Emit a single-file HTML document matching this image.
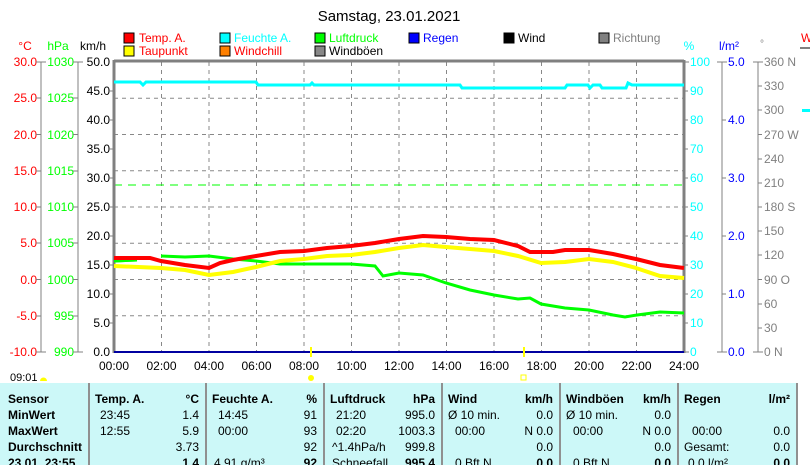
<!DOCTYPE html>
<html><head><meta charset="utf-8"><style>
html,body{margin:0;padding:0;background:#fff;width:810px;height:465px;overflow:hidden}
svg{display:block;font-family:"Liberation Sans",sans-serif;font-size:12px}
</style></head><body>
<svg width="810" height="465" viewBox="0 0 810 465">
<text x="389" y="21" font-size="15" text-anchor="middle">Samstag, 23.01.2021</text>
<!-- legend -->
<g font-size="12">
<rect x="124" y="33" width="10" height="10" fill="#f00" stroke="#000"/><text x="139" y="42" fill="#f00">Temp. A.</text>
<rect x="124" y="46" width="10" height="10" fill="#ff0" stroke="#000"/><text x="139" y="55" fill="#f00">Taupunkt</text>
<rect x="220" y="33" width="10" height="10" fill="#0ff" stroke="#000"/><text x="234" y="42" fill="#0ff">Feuchte A.</text>
<rect x="220" y="46" width="10" height="10" fill="#ff8000" stroke="#000"/><text x="234" y="55" fill="#f00">Windchill</text>
<rect x="315" y="33" width="10" height="10" fill="#0f0" stroke="#000"/><text x="329" y="42" fill="#0f0">Luftdruck</text>
<rect x="315" y="46" width="10" height="10" fill="#888" stroke="#000"/><text x="329" y="55">Windböen</text>
<rect x="409" y="33" width="10" height="10" fill="#00f" stroke="#000"/><text x="423" y="42" fill="#00f">Regen</text>
<rect x="504" y="33" width="10" height="10" fill="#000" stroke="#000"/><text x="518" y="42">Wind</text>
<rect x="599" y="33" width="10" height="10" fill="#808080" stroke="#000"/><text x="613" y="42" fill="#808080">Richtung</text>
</g>
<!-- axis headers -->
<text x="25" y="50" fill="#f00" text-anchor="middle">°C</text>
<text x="58" y="50" fill="#0f0" text-anchor="middle">hPa</text>
<text x="93" y="50" text-anchor="middle">km/h</text>
<text x="689" y="50" fill="#0ff" text-anchor="middle">%</text>
<text x="729" y="50" fill="#00f" text-anchor="middle">l/m²</text>
<text x="760" y="47" fill="#808080" font-size="10">°</text>
<text x="801" y="42" fill="#f00">W</text>
<rect x="800" y="47" width="10" height="2" fill="#808080"/>
<rect x="802" y="109" width="8" height="3" fill="#0ff"/>
<!-- grid -->
<g stroke="#888" stroke-dasharray="4,4" stroke-width="1">
<line x1="114" y1="98.25" x2="684" y2="98.25"/><line x1="114" y1="134.5" x2="684" y2="134.5"/>
<line x1="114" y1="170.75" x2="684" y2="170.75"/><line x1="114" y1="207" x2="684" y2="207"/>
<line x1="114" y1="243.25" x2="684" y2="243.25"/><line x1="114" y1="279.5" x2="684" y2="279.5"/>
<line x1="114" y1="315.75" x2="684" y2="315.75"/>
<line x1="161.5" y1="62" x2="161.5" y2="352"/><line x1="209" y1="62" x2="209" y2="352"/>
<line x1="256.5" y1="62" x2="256.5" y2="352"/><line x1="304" y1="62" x2="304" y2="352"/>
<line x1="351.5" y1="62" x2="351.5" y2="352"/><line x1="399" y1="62" x2="399" y2="352"/>
<line x1="446.5" y1="62" x2="446.5" y2="352"/><line x1="494" y1="62" x2="494" y2="352"/>
<line x1="541.5" y1="62" x2="541.5" y2="352"/><line x1="589" y1="62" x2="589" y2="352"/>
<line x1="636.5" y1="62" x2="636.5" y2="352"/>
</g>
<line x1="114" y1="185" x2="684" y2="185" stroke="#0f0" stroke-dasharray="8,6" stroke-width="1"/>
<!-- axes lines -->
<g stroke="#808080">
<line x1="114" y1="61" x2="684" y2="61" stroke-width="3"/>
<line x1="114" y1="60" x2="114" y2="353" stroke-width="3"/>
<line x1="684" y1="60" x2="684" y2="353" stroke-width="3"/>
<line x1="41" y1="62" x2="41" y2="352"/><line x1="78" y1="62" x2="78" y2="352"/>
<line x1="722" y1="62" x2="722" y2="352"/><line x1="758" y1="62" x2="758" y2="352"/>
</g>
<!-- tick labels -->
<g text-anchor="end">
<g fill="#f00"><text x="37" y="66">30.0</text><text x="37" y="102">25.0</text><text x="37" y="139">20.0</text><text x="37" y="175">15.0</text><text x="37" y="211">10.0</text><text x="37" y="247">5.0</text><text x="37" y="284">0.0</text><text x="37" y="320">-5.0</text><text x="37" y="356">-10.0</text></g>
<g fill="#0f0"><text x="74" y="66">1030</text><text x="74" y="102">1025</text><text x="74" y="139">1020</text><text x="74" y="175">1015</text><text x="74" y="211">1010</text><text x="74" y="247">1005</text><text x="74" y="284">1000</text><text x="74" y="320">995</text><text x="74" y="356">990</text></g>
<g><text x="110" y="66">50.0</text><text x="110" y="95">45.0</text><text x="110" y="124">40.0</text><text x="110" y="153">35.0</text><text x="110" y="182">30.0</text><text x="110" y="211">25.0</text><text x="110" y="240">20.0</text><text x="110" y="269">15.0</text><text x="110" y="298">10.0</text><text x="110" y="327">5.0</text><text x="110" y="356">0.0</text></g>
</g>
<g stroke="#808080">
<path d="M36 62h10M36 98h5M36 134.5h5M36 171h5M36 207h5M36 243h5M36 279.5h5M36 316h5M36 352h10M73 62h10M73 98h5M73 134.5h5M73 171h5M73 207h5M73 243h5M73 279.5h5M73 316h5M73 352h10M110 91h4M110 120h4M110 149h4M110 178h4M110 207h4M110 236h4M110 265h4M110 294h4M110 323h4"/>
<path d="M684 62h5M684 91h4M684 120h4M684 149h4M684 178h4M684 207h4M684 236h4M684 265h4M684 294h4M684 323h4M684 352h5M717 62h10M722 120h4M722 178h4M722 236h4M722 294h4M717 352h10M753 62h10M758 86h4M758 110h4M758 134.5h4M758 159h4M758 183h4M758 207h4M758 231h4M758 255h4M758 279.5h4M758 304h4M758 328h4M753 352h10"/>
</g>
<g fill="#0ff"><text x="690" y="66">100</text><text x="690" y="95">90</text><text x="690" y="124">80</text><text x="690" y="153">70</text><text x="690" y="182">60</text><text x="690" y="211">50</text><text x="690" y="240">40</text><text x="690" y="269">30</text><text x="690" y="298">20</text><text x="690" y="327">10</text><text x="690" y="356">0</text></g>
<g fill="#00f"><text x="728" y="66">5.0</text><text x="728" y="124">4.0</text><text x="728" y="182">3.0</text><text x="728" y="240">2.0</text><text x="728" y="298">1.0</text><text x="728" y="356">0.0</text></g>
<g fill="#808080"><text x="764" y="66">360 N</text><text x="764" y="90">330</text><text x="764" y="114">300</text><text x="764" y="139">270 W</text><text x="764" y="163">240</text><text x="764" y="187">210</text><text x="764" y="211">180 S</text><text x="764" y="235">150</text><text x="764" y="259">120</text><text x="764" y="284">90 O</text><text x="764" y="308">60</text><text x="764" y="332">30</text><text x="764" y="356">0 N</text></g>
<!-- x labels -->
<g text-anchor="middle">
<text x="114" y="370">00:00</text><text x="161.5" y="370">02:00</text><text x="209" y="370">04:00</text><text x="256.5" y="370">06:00</text><text x="304" y="370">08:00</text><text x="351.5" y="370">10:00</text><text x="399" y="370">12:00</text><text x="446.5" y="370">14:00</text><text x="494" y="370">16:00</text><text x="541.5" y="370">18:00</text><text x="589" y="370">20:00</text><text x="636.5" y="370">22:00</text><text x="684" y="370">24:00</text>
</g>
<!-- series -->
<polyline fill="none" stroke="#0ff" stroke-width="3" points="114,82 140,82 143,85 146,82 256,82 258,85 310,85 312,83 314,85 460,85 462,88 565,88 567,85 588,85 590,88 593,85 600,85 602,88 626,88 628,83 632,85 684,85"/>
<polyline fill="none" stroke="#0f0" stroke-width="3" points="114,261 137,260 M"/>
<polyline fill="none" stroke="#0f0" stroke-width="3" points="114,261 137,260"/>
<polyline fill="none" stroke="#0f0" stroke-width="3" points="161,256 185,257 209,256 233,259 256,261 280,264 304,264 351,264 375,266 383,276 399,273 423,275 446,283 470,290 494,295 518,299 530,298 541,304 565,308 589,310 613,315 625,317 637,315 660,312 684,313"/>
<polyline fill="none" stroke="#ff0" stroke-width="4" points="114,266 161,268 185,270 209,275 233,272 256,267 280,261 304,259 327,256 351,255 375,252 399,248 423,245 446,247 470,249 494,251 518,256 541,263 565,262 589,259 613,262 636,268 660,276 684,278"/>
<polyline fill="none" stroke="#f00" stroke-width="4" points="114,258 150,258 161,261 185,265 209,268 220,263 233,260 256,256 280,252 304,251 327,248 351,246 375,243 399,239 423,236 446,237 470,239 494,240 518,246 530,252 553,252 565,250 589,250 613,254 636,259 660,265 684,268"/>
<line x1="114" y1="352" x2="684" y2="352" stroke="#0000a0" stroke-width="2"/>
<!-- sun markers -->
<line x1="311" y1="347" x2="311" y2="357" stroke="#ff0" stroke-width="2"/>
<line x1="524" y1="347" x2="524" y2="357" stroke="#ff0" stroke-width="2"/>
<circle cx="311" cy="378" r="3" fill="#ff0"/>
<rect x="521" y="375" width="5" height="5" fill="none" stroke="#ff0"/>
<text x="10" y="381" font-size="11">09:01</text>
<path d="M40 381a3 3 0 0 1 7 0z" fill="#ff0"/>
<!-- table -->
<rect x="0" y="383" width="797" height="82" fill="#ccf8f8"/>
<g stroke="#909090" stroke-width="2">
<line x1="89" y1="383" x2="89" y2="465"/><line x1="206" y1="383" x2="206" y2="465"/><line x1="324" y1="383" x2="324" y2="465"/><line x1="442" y1="383" x2="442" y2="465"/><line x1="560" y1="383" x2="560" y2="465"/><line x1="678" y1="383" x2="678" y2="465"/><line x1="797" y1="383" x2="797" y2="465"/>
</g>
<g font-size="12">
<g font-weight="bold"><text x="8" y="403">Sensor</text><text x="8" y="419">MinWert</text><text x="8" y="435">MaxWert</text><text x="8" y="451">Durchschnitt</text><text x="8" y="467">23.01. 23:55</text>
<text x="95" y="403">Temp. A.</text><text x="212" y="403">Feuchte A.</text><text x="330" y="403">Luftdruck</text><text x="448" y="403">Wind</text><text x="566" y="403">Windböen</text><text x="684" y="403">Regen</text></g>
<g text-anchor="end" font-weight="bold"><text x="199" y="403">°C</text><text x="317" y="403">%</text><text x="435" y="403">hPa</text><text x="553" y="403">km/h</text><text x="671" y="403">km/h</text><text x="790" y="403">l/m²</text>
<text x="199" y="467">1.4</text><text x="317" y="467">92</text><text x="435" y="467">995.4</text><text x="553" y="467">0.0</text><text x="671" y="467">0.0</text><text x="790" y="467">0.0</text></g>
<text x="100" y="419">23:45</text><text x="100" y="435">12:55</text>
<text x="218" y="419">14:45</text><text x="218" y="435">00:00</text><text x="214" y="467">4.91 g/m³</text>
<text x="336" y="419">21:20</text><text x="336" y="435">02:20</text><text x="332" y="451">^1.4hPa/h</text><text x="332" y="467">Schneefall</text>
<text x="448" y="419">Ø 10 min.</text><text x="455" y="435">00:00</text><text x="455" y="467">0 Bft N</text>
<text x="566" y="419">Ø 10 min.</text><text x="573" y="435">00:00</text><text x="573" y="467">0 Bft N</text>
<text x="692" y="435">00:00</text><text x="684" y="451">Gesamt:</text><text x="688" y="467">0.0 l/m²</text>
<g text-anchor="end">
<text x="199" y="419">1.4</text><text x="199" y="435">5.9</text><text x="199" y="451">3.73</text>
<text x="317" y="419">91</text><text x="317" y="435">93</text><text x="317" y="451">92</text>
<text x="435" y="419">995.0</text><text x="435" y="435">1003.3</text><text x="435" y="451">999.8</text>
<text x="553" y="419">0.0</text><text x="553" y="435">N 0.0</text><text x="553" y="451">0.0</text>
<text x="671" y="419">0.0</text><text x="671" y="435">N 0.0</text><text x="671" y="451">0.0</text>
<text x="790" y="435">0.0</text><text x="790" y="451">0.0</text>
</g>
</g>
</svg>
</body></html>
